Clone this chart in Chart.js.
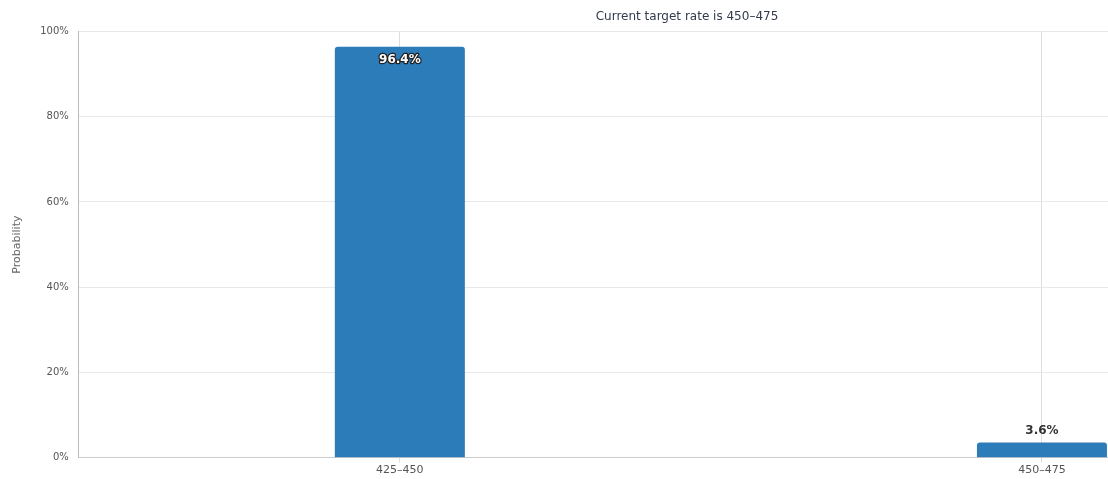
<!DOCTYPE html>
<html>
<head>
<meta charset="utf-8">
<script src="https://cdn.jsdelivr.net/npm/chart.js@4"></script>
<style>
  html, body { margin:0; padding:0; background:#fff; overflow:hidden; }
  #wrap { width:1374px; height:479px; position:relative; }
</style>
</head>
<body>
<div id="wrap"><canvas id="chart"></canvas></div>
<script>
/* FedWatch-style probability bars */
const categories = ['425\u2013450', '450\u2013475'];
const probability = [96.4, 3.6];
const yTicks = [0, 20, 40, 60, 80, 100];
const titleText = 'Current target rate is 450\u2013475';

const font = "'DejaVu Sans', 'Liberation Sans', sans-serif";

// draws the % labels: inside the top of tall bars, above short ones
const barLabels = {
  id: 'barLabels',
  afterDatasetsDraw(chart){
    const ctx = chart.ctx;
    const meta = chart.getDatasetMeta(0);
    ctx.save();
    ctx.textAlign = 'center';
    ctx.textBaseline = 'middle';
    meta.data.forEach((bar, i) => {
      const v = probability[i];
      const txt = v.toFixed(1) + '%';
      ctx.font = 'bold 12px ' + font;
      if(v > 50){
        ctx.lineWidth = 2.5;
        ctx.strokeStyle = '#222';
        ctx.lineJoin = 'round';
        ctx.strokeText(txt, bar.x, bar.y + 13);
        ctx.fillStyle = '#fff';
        ctx.fillText(txt, bar.x, bar.y + 13);
      } else {
        ctx.fillStyle = '#333';
        ctx.fillText(txt, bar.x, bar.y - 12);
      }
    });
    ctx.restore();
  }
};

new Chart(document.getElementById('chart'), {
  type: 'bar',
  data: {
    labels: categories,
    datasets: [{
      data: probability,
      backgroundColor: '#2b7cb9',
      borderRadius: {topLeft:3, topRight:3},
      borderSkipped: 'bottom',
      categoryPercentage: 1,
      barPercentage: 0.2025
    }]
  },
  options: {
    responsive: true,
    maintainAspectRatio: false,
    animation: false,
    layout: { padding: {left:11, right:11, top:0, bottom:1} },
    plugins: {
      legend: { display:false },
      tooltip: { enabled:false },
      title: {
        display: true,
        text: titleText,
        color: '#333a4d',
        font: { family: font, size: 12, weight: 'normal' },
        padding: { top:10, bottom:7 }
      }
    },
    scales: {
      x: {
        grid: { offset:false, color:'#dedede', tickLength:5, drawOnChartArea:true },
        border: { color:'#cccccc' },
        ticks: { color:'#555', font:{family:font, size:11}, padding:1 }
      },
      y: {
        min: 0, max: 100,
        afterBuildTicks(axis){ axis.ticks = yTicks.map(v => ({value:v})); },
        grid: { color:'#e8e8e8', drawTicks:false },
        border: { color:'#bbbbbb' },
        ticks: { color:'#555', font:{family:font, size:10}, padding:10, callback: v => v + '%' },
        title: { display:true, text:'Probability', color:'#666', font:{family:font, size:11}, padding:{top:0, bottom:6} }
      }
    }
  },
  plugins: [barLabels]
});
</script>
</body>
</html>
